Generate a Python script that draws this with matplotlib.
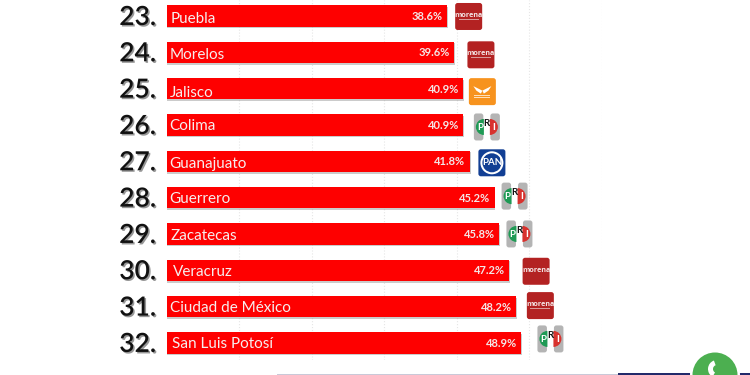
"""
Ranking de estados: barras rojas con número, nombre, porcentaje y logo del partido.
"""
import matplotlib
matplotlib.use('Agg')
import matplotlib.pyplot as plt
import matplotlib.patheffects as pe
from matplotlib.patches import Circle, FancyBboxPatch, Rectangle, Wedge, Polygon

ranks = [23, 24, 25, 26, 27, 28, 29, 30, 31, 32]
states = ['Puebla', 'Morelos', 'Jalisco', 'Colima', 'Guanajuato', 'Guerrero',
          'Zacatecas', 'Veracruz', 'Ciudad de México', 'San Luis Potosí']
values = [38.6, 39.6, 40.9, 40.9, 41.8, 45.2, 45.8, 47.2, 48.2, 48.9]
parties = ['morena', 'morena', 'mc', 'pri', 'pan', 'pri', 'pri', 'morena',
           'morena', 'pri']
grid_ticks = [10, 20, 30, 40, 50, 60]

# huecos a mano, el original no va alineado
name_x = [4.5, 3.5, 3.5, 3, 3, 3, 4, 6.5, 4, 5]
name_dy = [3, 3, 4.5, 1.5, 3, 1.5, 2.5, 2, 1.5, 1.5]
logo_gap = [22, 27, 19, 23.5, 22, 20, 20.5, 27, 24, 29]
logo_dy = [0.5, 2.5, 3, 2, 1.5, -1.5, 0, 1, -1, -4]

W, H = 750, 375
fig = plt.figure(figsize=(W / 100, H / 100), dpi=100, facecolor='white')
plt.rcParams['font.family'] = ['Lato', 'DejaVu Sans']

ax = fig.add_axes([166.5 / W, 15 / H, (602 - 166.5) / W, 360 / H])
ax.set_xlim(0, 60)
ax.set_ylim(9.47, -0.44)
ax.set_xticks(grid_ticks)
ax.set_yticks([])
ax.tick_params(length=0, labelbottom=False)
ax.grid(axis='x', color='#e6e6e6', lw=0.8, ls=':')
ax.set_axisbelow(True)
for s in ax.spines.values():
    s.set_visible(False)
ax.patch.set_alpha(0)

rows = list(range(len(states)))
shadow = pe.SimplePatchShadow(offset=(0.6, -1.2), shadow_rgbFace='#999999', alpha=0.5)
ax.barh(rows, values, height=0.59, color='#fe0000',
        path_effects=[shadow, pe.Normal()])

# capa en píxeles para textos y logos
ov = fig.add_axes([0, 0, 1, 1])
ov.set_xlim(0, W)
ov.set_ylim(H, 0)
ov.axis('off')
ov.patch.set_alpha(0)


def to_px(x, y):
    """Convierte datos de la barra a píxeles de la capa."""
    px, py = ax.transData.transform((x, y))
    return px, H - py


def rounded(x, y, w, h, color, r=2.5):
    ov.add_patch(FancyBboxPatch((x + r, y + r), w - 2 * r, h - 2 * r,
                                boxstyle=f'round,pad={r},rounding_size={r}',
                                fc=color, ec='none'))


def logo_morena(cx, cy):
    rounded(cx - 13.5, cy - 13.5, 27, 27, '#b32222')
    ov.text(cx, cy - 1, 'morena', color='#f4e6e6', fontsize=5.2, weight='bold',
            ha='center', va='center', family='Open Sans')
    ov.add_patch(Rectangle((cx - 10, cy + 2.5), 20, 0.7, fc='#d99a9a', ec='none'))


def logo_mc(cx, cy):
    rounded(cx - 13.5, cy - 13.5, 27, 27, '#f7931e')
    for side in (-1, 1):
        ov.add_patch(Polygon([(cx, cy - 1), (cx + side * 9, cy - 5.5),
                              (cx + side * 6, cy - 1), (cx + side * 1.5, cy + 2)],
                             fc='white', ec='none'))
    ov.add_patch(Rectangle((cx - 8, cy + 3), 16, 0.9, fc='#fde0bb', ec='none'))
    ov.add_patch(Rectangle((cx - 8, cy + 5), 16, 0.9, fc='#fde0bb', ec='none'))


def logo_pri(cx, cy):
    rounded(cx - 13, cy - 13.5, 9.5, 27, '#b4b4b4')
    rounded(cx + 3.5, cy - 13.5, 9.5, 27, '#b4b4b4')
    ov.add_patch(Wedge((cx - 3, cy), 8, 90, 270, fc='#1f9a55', ec='none'))
    ov.add_patch(Wedge((cx + 3, cy), 8, -90, 90, fc='#d8322e', ec='none'))
    ov.text(cx - 7, cy + 0.5, 'P', color='white', fontsize=7, weight='bold',
            ha='center', va='center')
    ov.text(cx, cy - 3.5, 'R', color='#111111', fontsize=7, weight='bold',
            ha='center', va='center')
    ov.text(cx + 7, cy + 0.5, 'I', color='white', fontsize=7, weight='bold',
            ha='center', va='center')


def logo_pan(cx, cy):
    rounded(cx - 13.5, cy - 13.5, 27, 27, '#123f94')
    ov.add_patch(Circle((cx, cy), 11.5, fc='white', ec='none'))
    ov.add_patch(Circle((cx, cy), 9.5, fc='#123f94', ec='none'))
    ov.text(cx, cy, 'PAN', color='white', fontsize=7, weight='bold',
            ha='center', va='center')


logos = {'morena': logo_morena, 'mc': logo_mc, 'pri': logo_pri, 'pan': logo_pan}
num_fx = [pe.SimplePatchShadow(offset=(1.1, -1.1), shadow_rgbFace='#8c8c8c', alpha=0.9),
          pe.Normal()]

for i, (rank, state, val, party) in enumerate(zip(ranks, states, values, parties)):
    x_end, y = to_px(val, i)
    x0, _ = to_px(0, i)
    ov.text(156, y + 1.5, f'{rank}.', fontsize=19, weight=600, color='#111111',
            ha='right', va='center', path_effects=num_fx)
    ov.text(x0 + name_x[i], y + name_dy[i], state, color='#f6eeee', fontsize=11,
            ha='left', va='center')
    ov.text(x_end - 4.5, y + 0.5, f'{val}%', color='#f3e6e6', fontsize=8,
            weight='bold', ha='right', va='center')
    logos[party](x_end + logo_gap[i], y + logo_dy[i])

# franja inferior y botón de WhatsApp
ov.add_patch(Rectangle((277, 373.5), 341, 1.5, fc='#c9c9d8', ec='none'))
ov.add_patch(Rectangle((618, 372.5), 132, 2.5, fc='#232a6b', ec='none'))
ov.add_patch(Circle((715, 375), 25, fc='white', ec='none'))
ov.add_patch(Circle((715, 375), 22.5, fc='#4caf50', ec='none'))
ov.add_patch(Wedge((717, 369), 9, 120, 250, width=5, fc='white', ec='none'))

fig.savefig('out.png', dpi=100)
plt.close(fig)
